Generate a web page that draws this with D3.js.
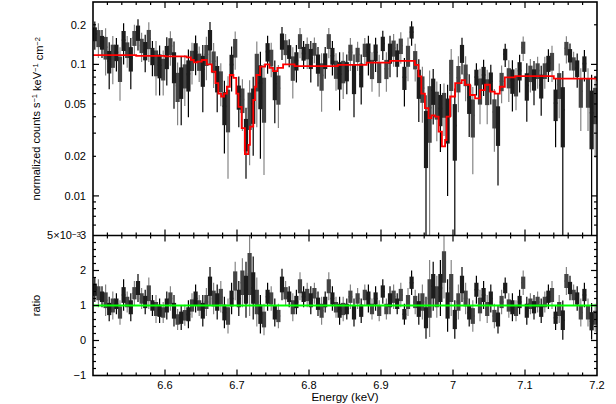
<!DOCTYPE html>
<html>
<head>
<meta charset="utf-8">
<script src="https://cdn.jsdelivr.net/npm/d3@7"></script>
<style>
body { margin: 0; background: #fff; }
text { font-family: "Liberation Sans", Arial, Helvetica, sans-serif; fill: #000; }
</style>
</head>
<body>
<svg id="chart" width="616" height="404"></svg>
<script>
// channel centres (keV) of the two data groups
var blackE = [6.5025,6.5125,6.5225,6.5325,6.5425,6.5525,6.5625,6.5725,6.5825,6.5925,
              6.6025,6.6125,6.6225,6.6325,6.6425,6.6525,6.6625,6.6725,6.6825,6.6925,
              6.7025,6.7125,6.7225,6.7325,6.7425,6.7525,6.7625,6.7725,6.7825,6.7925,
              6.8025,6.8125,6.8225,6.8325,6.8425,6.8525,6.8625,6.8725,6.8825,6.8925,
              6.9025,6.9125,6.9225,6.9325,6.9425,6.9525,6.9625,6.9725,6.9825,6.9925,
              7.0025,7.0125,7.0225,7.0325,7.0425,7.0525,7.0625,7.0725,7.0825,7.0925,
              7.1025,7.1125,7.1225,7.1325,7.1425,7.1525,7.1625,7.1725,7.1825,7.1925];
var grayE  = [6.5075,6.5175,6.5275,6.5375,6.5475,6.5575,6.5675,6.5775,6.5875,6.5975,
              6.6075,6.6175,6.6275,6.6375,6.6475,6.6575,6.6675,6.6775,6.6875,6.6975,
              6.7075,6.7175,6.7275,6.7375,6.7475,6.7575,6.7675,6.7775,6.7875,6.7975,
              6.8075,6.8175,6.8275,6.8375,6.8475,6.8575,6.8675,6.8775,6.8875,6.8975,
              6.9075,6.9175,6.9275,6.9375,6.9475,6.9575,6.9675,6.9775,6.9875,6.9975,
              7.0075,7.0175,7.0275,7.0375,7.0475,7.0575,7.0675,7.0775,7.0875,7.0975,
              7.1075,7.1175,7.1275,7.1375,7.1475,7.1575,7.1675,7.1775,7.1875,7.1975];
var halfWidth = 0.0025;

// data / model ratio and its 1-sigma error
var blackRatio = [1.45,1.25,0.9,1.05,1.3,0.95,1.5,1.1,1.0,0.85,
                  1.0,0.85,0.65,0.75,1.2,0.85,1.55,1.1,0.8,1.2,
                  1.2,1.45,1.5,0.75,1.25,0.8,1.6,1.25,1.1,1.25,
                  1.15,1.05,1.1,1.2,0.85,0.9,0.8,0.85,1.2,1.2,
                  1.4,1.15,1.05,0.75,1.65,0.9,0.65,1.55,1.5,1.0,
                  0.6,1.6,0.8,1.45,1.3,1.2,0.6,1.5,0.95,1.1,
                  0.85,0.95,0.85,1.25,0.65,0.58,1.5,1.2,1.3,0.55];
var blackErr = [0.35,0.3,0.35,0.3,0.45,0.4,0.4,0.35,0.3,0.35,
                0.4,0.45,0.35,0.4,0.4,0.45,0.55,0.5,0.45,0.45,
                0.5,0.8,0.9,0.55,0.4,0.4,0.45,0.3,0.35,0.3,
                0.4,0.35,0.3,0.35,0.4,0.3,0.4,0.35,0.4,0.35,
                0.35,0.4,0.3,0.3,0.35,0.45,0.6,0.7,0.8,0.75,
                0.55,0.5,0.4,0.4,0.4,0.4,0.4,0.3,0.4,0.35,
                0.4,0.35,0.35,0.35,0.35,0.56,0.35,0.35,0.35,0.52];
var grayRatio = [1.35,1.15,1.0,0.8,1.1,1.35,1.2,1.35,0.9,0.8,
                 1.2,0.6,0.72,1.0,1.0,1.1,1.2,1.25,0.7,1.7,
                 1.65,1.9,1.1,0.6,1.2,0.7,1.35,0.95,1.55,1.3,
                 1.35,0.85,1.55,0.95,0.9,1.25,1.2,1.3,0.9,0.85,
                 0.9,1.25,1.3,1.1,1.1,1.1,1.2,1.25,2.1,1.5,
                 1.1,1.2,0.7,1.0,0.9,0.7,1.1,1.0,0.85,1.65,
                 1.05,1.1,1.1,1.3,0.9,1.7,1.3,0.8,0.8,0.65];
var grayErr = [0.4,0.45,0.4,0.35,0.3,0.35,0.3,0.45,0.4,0.3,
               0.35,0.3,0.3,0.35,0.3,0.4,0.45,0.45,0.5,0.55,
               0.7,1.2,0.7,0.45,0.35,0.35,0.35,0.4,0.4,0.35,
               0.3,0.4,0.4,0.3,0.35,0.35,0.3,0.3,0.3,0.3,
               0.3,0.35,0.35,0.4,0.35,0.5,1.1,0.6,0.9,0.8,
               0.5,0.45,0.45,0.45,0.4,0.35,0.35,0.35,0.3,0.35,
               0.3,0.3,0.3,0.4,0.4,0.4,0.3,0.4,0.4,0.4];

// folded model (step edges in keV, normalized counts s^-1 keV^-1 cm^-2)
var modelE = [6.50,6.56,6.60,6.63,6.636,6.640,6.645,6.651,6.658,6.665,6.670,6.674,6.678,6.682,
              6.686,6.690,6.695,6.699,6.702,6.7065,6.711,6.7157,6.718,6.7226,6.725,6.727,6.732,
              6.739,6.745,6.750,6.756,6.764,6.78,6.84,6.88,6.9125,6.940,6.947,6.952,6.956,6.961,
              6.966,6.970,6.975,6.980,6.9846,6.989,6.991,6.996,7.003,7.012,7.0167,7.0236,7.0306,
              7.0375,7.0444,7.0514,7.058,7.065,7.072,7.086,7.14,7.20];
var modelV = [0.1176,0.116,0.115,0.113,0.108,0.1035,0.105,0.108,0.100,0.088,0.072,0.060,0.057,0.060,
              0.0676,0.083,0.079,0.060,0.0476,0.0328,0.0208,0.0244,0.0336,0.0536,0.0676,0.083,0.096,
              0.100,0.094,0.089,0.094,0.100,0.097,0.099,0.103,0.1065,0.1065,0.099,0.081,0.060,0.0465,
              0.039,0.041,0.040,0.0308,0.0238,0.0266,0.040,0.057,0.072,0.076,0.070,0.0585,0.0552,
              0.0638,0.070,0.062,0.060,0.0676,0.0796,0.0815,0.078,0.0745];

var xTicks = [6.6, 6.7, 6.8, 6.9, 7, 7.1, 7.2];
var fluxTicks = [0.01, 0.02, 0.05, 0.1, 0.2];
var ratioTicks = [-1, 0, 1, 2, 3];

var left = 93, right = 597, top1 = 2, bot1 = 235.5, bot2 = 375.5;

var svg = d3.select("#chart");

var x = d3.scaleLinear().domain([6.5, 7.2]).range([left, right]);
var yFlux = d3.scaleLog().domain([0.005, 0.298]).range([bot1, top1]);
var yRatio = d3.scaleLinear().domain([-1, 3]).range([bot2, bot1]);

function modelAt(e) {
    var i = d3.bisectRight(modelE, e) - 1;
    return modelV[Math.max(0, Math.min(modelV.length - 1, i))];
}

// clip regions for the two panels
var defs = svg.append("defs");
defs.append("clipPath").attr("id", "clipTop").append("rect")
    .attr("x", left).attr("y", top1).attr("width", right - left).attr("height", bot1 - top1);
defs.append("clipPath").attr("id", "clipBot").append("rect")
    .attr("x", left).attr("y", bot1).attr("width", right - left).attr("height", bot2 - bot1);

function buildBins(E, R, Err) {
    return E.map(function (e, i) {
        var m = modelAt(e);
        return {e: e, r: R[i], rErr: Err[i], f: R[i] * m, fErr: Err[i] * m};
    });
}
var blackBins = buildBins(blackE, blackRatio, blackErr);
var grayBins = buildBins(grayE, grayRatio, grayErr);

function drawBins(g, bins, y, key, whiskColor, boxColor, floor) {
    var val = function (d) { return d[key]; };
    var err = function (d) { return d[key + "Err"]; };
    var lo = function (d) { return Math.max(val(d) - err(d), floor); };
    var grp = g.append("g");
    // error bars
    grp.selectAll("line.w").data(bins).enter().append("line")
        .attr("x1", function (d) { return x(d.e); })
        .attr("x2", function (d) { return x(d.e); })
        .attr("y1", function (d) { return y(lo(d)); })
        .attr("y2", function (d) { return y(val(d) + err(d)); })
        .attr("stroke", whiskColor).attr("stroke-width", 1.2);
    // central part of the bar
    grp.selectAll("rect").data(bins).enter().append("rect")
        .attr("x", function (d) { return x(d.e) - 2.1; })
        .attr("width", 4.2)
        .attr("y", function (d) { return y(val(d) + 0.5 * err(d)); })
        .attr("height", function (d) {
            return y(Math.max(val(d) - 0.5 * err(d), floor)) - y(val(d) + 0.5 * err(d));
        })
        .attr("fill", boxColor);
    // bin width
    grp.selectAll("line.h").data(bins).enter().append("line")
        .attr("x1", function (d) { return x(d.e - halfWidth); })
        .attr("x2", function (d) { return x(d.e + halfWidth); })
        .attr("y1", function (d) { return y(val(d)); })
        .attr("y2", function (d) { return y(val(d)); })
        .attr("stroke", boxColor).attr("stroke-width", 1.6);
}

// ---- top panel: spectrum ----
var gTop = svg.append("g").attr("clip-path", "url(#clipTop)");
drawBins(gTop, grayBins, yFlux, "f", "#858585", "#444", 0.004);
drawBins(gTop, blackBins, yFlux, "f", "#000", "#1c1c1c", 0.004);

var modelLine = d3.line()
    .x(function (d, i) { return x(modelE[i]); })
    .y(function (d) { return yFlux(d); })
    .curve(d3.curveStepAfter);
gTop.append("path").datum(modelV)
    .attr("d", modelLine)
    .attr("fill", "none").attr("stroke", "#ff0000").attr("stroke-width", 1.8);

// ---- bottom panel: ratio ----
var gBot = svg.append("g").attr("clip-path", "url(#clipBot)");
drawBins(gBot, grayBins, yRatio, "r", "#858585", "#444", -2);
drawBins(gBot, blackBins, yRatio, "r", "#000", "#1c1c1c", -2);
gBot.append("line")
    .attr("x1", left).attr("x2", right)
    .attr("y1", yRatio(1)).attr("y2", yRatio(1))
    .attr("stroke", "#00ff00").attr("stroke-width", 2.2);

// ---- frames and ticks ----
var frame = svg.append("g").attr("stroke", "#000").attr("fill", "none");
frame.append("rect").attr("x", left).attr("y", top1)
    .attr("width", right - left).attr("height", bot2 - top1).attr("stroke-width", 1.6);
frame.append("line").attr("x1", left).attr("x2", right)
    .attr("y1", bot1).attr("y2", bot1).attr("stroke-width", 1.6);

var xMinor = d3.range(6.52, 7.2, 0.02).filter(function (v) {
    return Math.abs(v * 10 - Math.round(v * 10)) > 1e-6;
});
function vTicks(vals, yEdge, dir, len) {
    frame.selectAll(null).data(vals).enter().append("line")
        .attr("x1", function (d) { return x(d); }).attr("x2", function (d) { return x(d); })
        .attr("y1", yEdge).attr("y2", yEdge + dir * len).attr("stroke-width", 1.2);
}
[[top1, 1], [bot1, -1], [bot1, 1], [bot2, -1]].forEach(function (p) {
    vTicks(xTicks.filter(function (v) { return v < 7.19; }), p[0], p[1], 6);
    vTicks(xMinor, p[0], p[1], 3);
});

function hTicks(vals, y, len) {
    [[left, 1], [right, -1]].forEach(function (p) {
        frame.selectAll(null).data(vals).enter().append("line")
            .attr("x1", p[0]).attr("x2", p[0] + p[1] * len)
            .attr("y1", function (d) { return y(d); }).attr("y2", function (d) { return y(d); })
            .attr("stroke-width", 1.2);
    });
}
var fluxMinor = [];
[0.001, 0.01, 0.1].forEach(function (dec) {
    for (var k = 2; k <= 9; k++) {
        var v = k * dec;
        if (v > 0.005 && v < 0.298) fluxMinor.push(v);
    }
});
hTicks([0.01, 0.1], yFlux, 6);
hTicks(fluxMinor, yFlux, 3);
hTicks([0, 1, 2], yRatio, 6);
hTicks(d3.range(-0.8, 3, 0.2).filter(function (v) {
    return Math.abs(v - Math.round(v)) > 1e-6;
}), yRatio, 3);

// ---- tick labels ----
svg.append("g").selectAll("text").data(fluxTicks).enter().append("text")
    .attr("x", left - 7).attr("y", function (d) { return yFlux(d); })
    .attr("dy", "0.35em").attr("text-anchor", "end").attr("font-size", 11)
    .text(function (d) { return String(d); });
var lab5 = svg.append("text").attr("x", left - 12).attr("y", bot1)
    .attr("dy", "0.35em").attr("text-anchor", "end").attr("font-size", 11);
lab5.append("tspan").text("5×10");
lab5.append("tspan").attr("dy", "-0.35em").attr("font-size", 8).text("−3");

svg.append("g").selectAll("text").data(ratioTicks).enter().append("text")
    .attr("x", left - 7).attr("y", function (d) { return yRatio(d); })
    .attr("dy", "0.35em").attr("text-anchor", "end").attr("font-size", 11)
    .text(function (d) { return d < 0 ? "−" + Math.abs(d) : String(d); });

svg.append("g").selectAll("text").data(xTicks).enter().append("text")
    .attr("x", function (d) { return x(d); }).attr("y", bot2 + 13)
    .attr("text-anchor", "middle").attr("font-size", 11)
    .text(function (d) { return String(d); });

// ---- axis titles ----
svg.append("text").attr("x", (left + right) / 2).attr("y", 401)
    .attr("text-anchor", "middle").attr("font-size", 11.5).text("Energy (keV)");

var yt = svg.append("text")
    .attr("transform", "translate(40," + ((top1 + bot1) / 2) + ") rotate(-90)")
    .attr("text-anchor", "middle").attr("font-size", 11);
yt.append("tspan").text("normalized counts s");
yt.append("tspan").attr("dy", "-0.4em").attr("font-size", 7.5).text("−1");
yt.append("tspan").attr("dy", "0.4em").text(" keV");
yt.append("tspan").attr("dy", "-0.4em").attr("font-size", 7.5).text("−1");
yt.append("tspan").attr("dy", "0.4em").text(" cm");
yt.append("tspan").attr("dy", "-0.4em").attr("font-size", 7.5).text("−2");

svg.append("text")
    .attr("transform", "translate(40," + ((bot1 + bot2) / 2) + ") rotate(-90)")
    .attr("text-anchor", "middle").attr("font-size", 11).text("ratio");
</script>
</body>
</html>
